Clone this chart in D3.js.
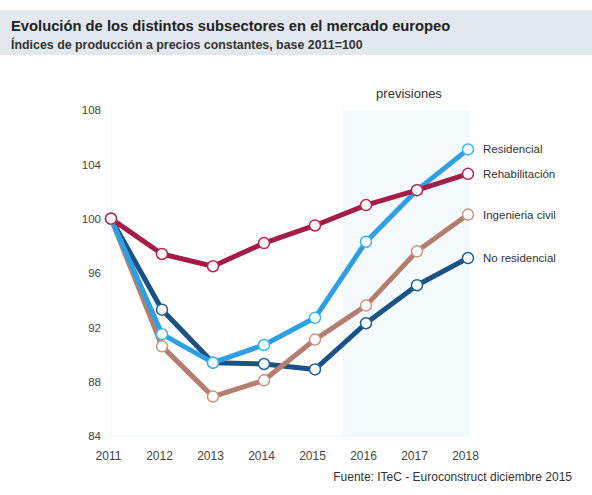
<!DOCTYPE html>
<html>
<head>
<meta charset="utf-8">
<script src="https://cdn.jsdelivr.net/npm/d3@7"></script>
<style>
  body { margin: 0; background: #fff; }
  svg { font-family: "Liberation Sans", Arial, sans-serif; }
</style>
</head>
<body>
<svg id="drawing_region"></svg>
<script>
// data
const years = [2011, 2012, 2013, 2014, 2015, 2016, 2017, 2018];
const yTicks = [84, 88, 92, 96, 100, 104, 108];
const forecastYears = [2016, 2018];

const residencial    = [100, 91.5, 89.4, 90.7, 92.7, 98.3, 102.1, 105.1];
const rehabilitacion = [100, 97.4, 96.5, 98.2, 99.5, 101.0, 102.1, 103.3];
const ingenieria     = [100, 90.6, 86.9, 88.1, 91.1, 93.6, 97.6, 100.3];
const noResidencial  = [100, 93.3, 89.4, 89.3, 88.9, 92.3, 95.1, 97.1];

const seriesNames  = ["Residencial", "Rehabilitación", "Ingenieria civil", "No residencial"];
const seriesValues = [residencial, rehabilitacion, ingenieria, noResidencial];
const seriesColors = ["#2e9fe3", "#a51d47", "#b47e6e", "#1b5283"];

const width = 592, height = 495;
const margin = {top: 110, right: 124, bottom: 59, left: 111};

const svg = d3.select("#drawing_region")
    .attr("width", width)
    .attr("height", height);

// header band
svg.append("rect")
    .attr("x", 0).attr("y", 10)
    .attr("width", width).attr("height", 45)
    .attr("fill", "#e2e8ed");

svg.append("text")
    .attr("x", 11).attr("y", 31)
    .attr("font-size", "14.75px")
    .attr("font-weight", "bold")
    .attr("fill", "#222")
    .text("Evolución de los distintos subsectores en el mercado europeo");

svg.append("text")
    .attr("x", 11).attr("y", 49)
    .attr("font-size", "12.4px")
    .attr("font-weight", "bold")
    .attr("fill", "#333")
    .text("Índices de producción a precios constantes, base 2011=100");

const innerW = width - margin.left - margin.right;
const innerH = height - margin.top - margin.bottom;

const xscale = d3.scaleLinear()
    .domain([2011, 2018])
    .range([0, innerW]);

const yscale = d3.scaleLinear()
    .domain([84, 108])
    .range([innerH, 0]);

const chart = svg.append("g")
    .attr("transform", `translate(${margin.left}, ${margin.top})`);

// forecast shading
chart.append("rect")
    .attr("x", xscale(forecastYears[0]) - 24)
    .attr("y", 0)
    .attr("width", xscale(forecastYears[1]) - xscale(forecastYears[0]) + 26)
    .attr("height", innerH)
    .attr("fill", "#f5fafd");

chart.append("text")
    .attr("x", xscale(2017) - 8)
    .attr("y", -12)
    .attr("text-anchor", "middle")
    .attr("font-size", "13px")
    .attr("fill", "#333")
    .text("previsiones");

// faint axis lines
chart.append("line")
    .attr("x1", 0).attr("x2", 0)
    .attr("y1", 0).attr("y2", innerH)
    .attr("stroke", "#eef3f6");
chart.append("line")
    .attr("x1", 0).attr("x2", innerW)
    .attr("y1", innerH).attr("y2", innerH)
    .attr("stroke", "#eef3f6");

const yaxis = d3.axisLeft(yscale)
    .tickValues(yTicks)
    .tickSize(0)
    .tickPadding(10);

chart.append("g")
    .call(yaxis)
    .call(g => g.select(".domain").remove())
    .selectAll("text")
    .attr("font-size", "11.5px")
    .attr("fill", "#444");

const xaxis = d3.axisBottom(xscale)
    .tickValues(years)
    .tickFormat(d3.format("d"))
    .tickSize(0)
    .tickPadding(15);

chart.append("g")
    .attr("transform", `translate(-3, ${innerH})`)
    .call(xaxis)
    .call(g => g.select(".domain").remove())
    .selectAll("text")
    .attr("font-size", "12px")
    .attr("fill", "#444");

const line = d3.line()
    .x((d, i) => xscale(years[i]))
    .y(d => yscale(d));

// draw lines from the back to the front like the reference
const order = [3, 2, 0, 1];
order.forEach(k => {
    chart.append("path")
        .datum(seriesValues[k])
        .attr("fill", "none")
        .attr("stroke", seriesColors[k])
        .attr("stroke-width", 5)
        .attr("stroke-linejoin", "round")
        .attr("d", line);
});

order.forEach(k => {
    chart.selectAll(null)
        .data(seriesValues[k])
        .enter()
        .append("circle")
        .attr("cx", (d, i) => xscale(years[i]))
        .attr("cy", d => yscale(d))
        .attr("r", 5.5)
        .attr("fill", "#fff")
        .attr("stroke", d3.color(seriesColors[k]).brighter(0.4))
        .attr("stroke-width", 1.5);
});

// end labels
seriesNames.forEach((name, k) => {
    chart.append("text")
        .attr("x", xscale(2018) + 15)
        .attr("y", yscale(seriesValues[k][7]))
        .attr("dy", "0.35em")
        .attr("font-size", "11.5px")
        .attr("fill", "#333")
        .text(name);
});

svg.append("text")
    .attr("x", 572).attr("y", 481)
    .attr("text-anchor", "end")
    .attr("font-size", "12px")
    .attr("fill", "#333")
    .text("Fuente: ITeC - Euroconstruct diciembre 2015");
</script>
</body>
</html>
